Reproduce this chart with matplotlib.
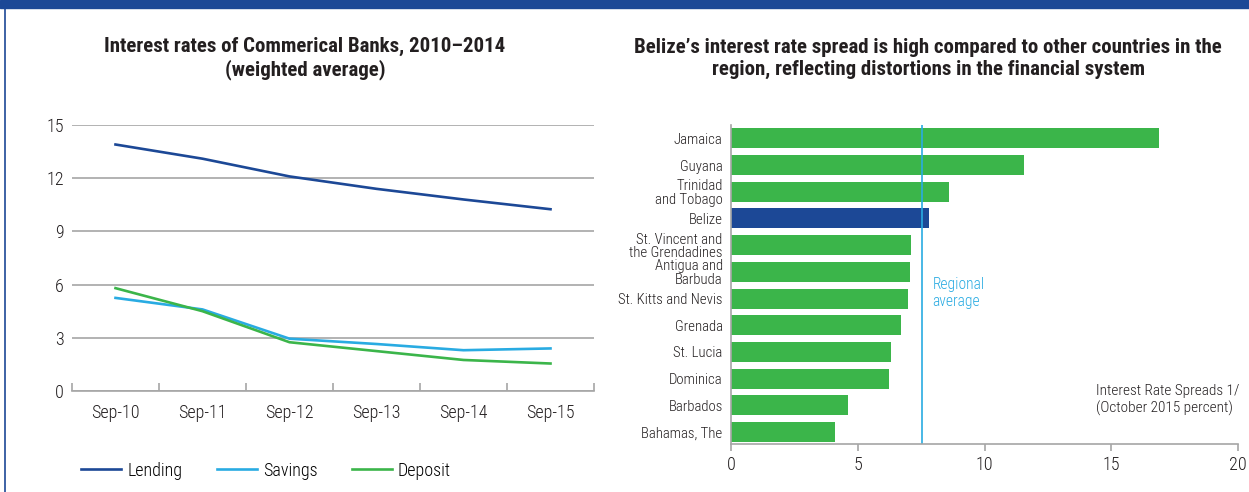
import matplotlib
matplotlib.use("Agg")
import matplotlib.pyplot as plt
import numpy as np

plt.rcParams['font.family'] = ['Roboto Condensed', 'DejaVu Sans']
plt.rcParams['font.weight'] = 300

# left chart data
dates = ['Sep-10', 'Sep-11', 'Sep-12', 'Sep-13', 'Sep-14', 'Sep-15']
lending = [13.9, 13.1, 12.1, 11.4, 10.8, 10.25]
savings = [5.25, 4.6, 2.95, 2.65, 2.3, 2.4]
deposit = [5.8, 4.5, 2.75, 2.25, 1.75, 1.55]

# right chart data
countries = ['Jamaica', 'Guyana', 'Trinidad\nand Tobago', 'Belize',
             'St. Vincent and\nthe Grendadines', 'Antigua and\nBarbuda',
             'St. Kitts and Nevis', 'Grenada', 'St. Lucia', 'Dominica',
             'Barbados', 'Bahamas, The']
spreads = [16.9, 11.55, 8.6, 7.8, 7.1, 7.05, 7.0, 6.7, 6.3, 6.25, 4.6, 4.1]
regional_avg = 7.55

navy = '#1c4896'
sky = '#29abe2'
green = '#3bb54a'
grid = '#a6a6a6'
txt = '#231f20'

fig = plt.figure(figsize=(12.49, 4.92), dpi=100)

# frame: top band and left rule
fig.patches.append(plt.Rectangle((0, 1 - 8 / 492), 1, 8 / 492, transform=fig.transFigure,
                                 color=navy, zorder=0))
fig.lines.append(plt.Line2D([4.5 / 1249, 4.5 / 1249], [0, 1], transform=fig.transFigure,
                            color=navy, lw=1.2))

# ---- left: interest rates ----
ax1 = fig.add_axes([72 / 1249, 1 - 391 / 492, 522 / 1249, 266 / 492])
x = np.arange(len(dates))
ax1.plot(x, lending, color=navy, lw=1.9, label='Lending')
ax1.plot(x, savings, color=sky, lw=1.9, label='Savings')
ax1.plot(x, deposit, color=green, lw=1.9, label='Deposit')
ax1.set_xlim(-0.5, 5.5)
ax1.set_ylim(0, 15)
ax1.set_yticks([0, 3, 6, 9, 12, 15])
ax1.yaxis.grid(True, color=grid, lw=1.2)
ax1.set_axisbelow(True)
ax1.set_xticks(x)
ax1.set_xticklabels(dates)
ax1.set_xticks(np.arange(-0.5, 6, 1), minor=True)
ax1.tick_params(axis='x', which='major', length=0, pad=9, labelsize=13, colors=txt)
ax1.tick_params(axis='x', which='minor', direction='in', length=6, color=grid, width=1.2)
ax1.tick_params(axis='y', length=0, pad=6, labelsize=13, colors=txt)
for s in ['top', 'right', 'left']:
    ax1.spines[s].set_visible(False)
ax1.spines['bottom'].set_color(grid)
ax1.spines['bottom'].set_linewidth(1.2)
ax1.legend(loc='center left', bbox_to_anchor=(-0.013, -0.30), ncol=3, frameon=False,
           prop={'size': 13, 'weight': 300}, handlelength=2.2, columnspacing=1.9,
           handletextpad=0.35)
fig.text(305 / 1249, 1 - 58.5 / 492, 'Interest rates of Commerical Banks, 2010–2014\n(weighted average)',
         ha='center', va='center', fontsize=15, fontweight='bold', color=txt, linespacing=1.2)

# ---- right: spreads ----
ax2 = fig.add_axes([731 / 1249, 1 - 444 / 492, 507 / 1249, 319 / 492])
y = np.arange(len(countries))
colors = [navy if c == 'Belize' else green for c in countries]
ax2.barh(y, spreads, height=0.75, color=colors)
ax2.axvline(regional_avg, color=sky, lw=1.2)
ax2.set_xlim(0, 20)
ax2.set_ylim(11.45, -0.5)
ax2.set_yticks(y)
ax2.set_yticklabels(countries, fontsize=10.6, linespacing=0.98)
ax2.set_xticks([0, 5, 10, 15, 20])
ax2.tick_params(axis='y', length=0, pad=6, colors=txt)
ax2.tick_params(axis='x', direction='out', length=5, color=grid, width=1.2, labelsize=13,
                labelcolor=txt, pad=4)
for s in ['top', 'right']:
    ax2.spines[s].set_visible(False)
for s in ['left', 'bottom']:
    ax2.spines[s].set_color(grid)
    ax2.spines[s].set_linewidth(1.2)
ax2.text(regional_avg + 0.4, 5.78, 'Regional\naverage', color=sky, fontsize=11.2,
         va='center', ha='left', linespacing=1.15)
ax2.text(14.4, 9.8, 'Interest Rate Spreads 1/\n(October 2015 percent)', color=txt,
         fontsize=11, va='center', ha='left', linespacing=1.2)
fig.text(928 / 1249, 1 - 58.5 / 492,
         "Belize’s interest rate spread is high compared to other countries in the\n"
         "region, reflecting distortions in the financial system",
         ha='center', va='center', fontsize=15, fontweight='bold', color=txt, linespacing=1.2)

fig.savefig('out.png', dpi=100)
